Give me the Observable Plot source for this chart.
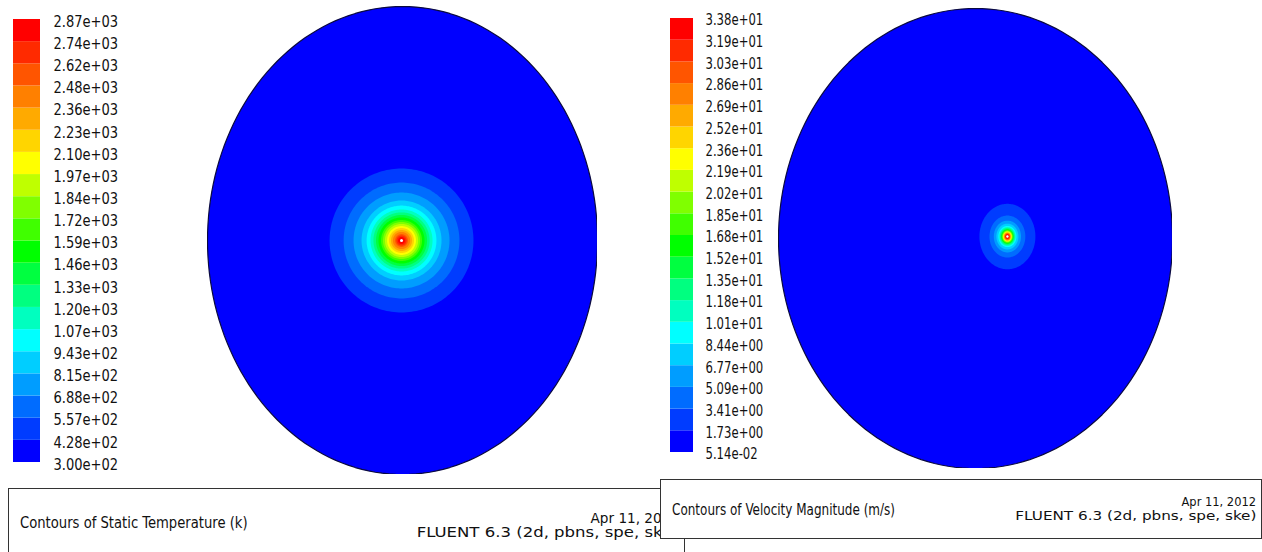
<!DOCTYPE html>
<html><head><meta charset="utf-8">
<script src="https://cdn.jsdelivr.net/npm/d3@7"></script>
<script src="https://cdn.jsdelivr.net/npm/@observablehq/plot@0.6"></script>
<style>
body{margin:0;background:#fff;}
#root{position:relative;width:1262px;height:552px;overflow:hidden;font-family:"DejaVu Sans Condensed","Liberation Sans Narrow","DejaVu Sans",sans-serif;color:#111;}
.box{position:absolute;background:#fff;border:1.5px solid #333;box-sizing:border-box;}
.t{position:absolute;white-space:nowrap;line-height:1;}
</style></head><body><div id="root"></div>
<script>
// ---------- data ----------
const tempLabels = ["2.87e+03","2.74e+03","2.62e+03","2.48e+03","2.36e+03","2.23e+03","2.10e+03","1.97e+03","1.84e+03","1.72e+03","1.59e+03","1.46e+03","1.33e+03","1.20e+03","1.07e+03","9.43e+02","8.15e+02","6.88e+02","5.57e+02","4.28e+02","3.00e+02"];
const velLabels = ["3.38e+01","3.19e+01","3.03e+01","2.86e+01","2.69e+01","2.52e+01","2.36e+01","2.19e+01","2.02e+01","1.85e+01","1.68e+01","1.52e+01","1.35e+01","1.18e+01","1.01e+01","8.44e+00","6.77e+00","5.09e+00","3.41e+00","1.73e+00","5.14e-02"];
const bands = d3.range(20); // colour band index, 0 = lowest
// contour band outer radius (bands 1..19), in units of the domain x-radius
const tempBandRadius = [0.369,0.297,0.246,0.205,0.179,0.159,0.144,0.131,0.118,0.105,0.095,0.085,0.074,0.064,0.054,0.044,0.033,0.026,0.018];
const velBandRadius  = [0.142,0.091,0.069,0.056,0.046,0.041,0.037,0.033,0.030,0.028,0.025,0.023,0.021,0.019,0.017,0.015,0.013,0.011,0.009];
const tempDomain = {ax: 1, ay: 1.2, hx: -0.005, hy: 0, ringAspect: 1.0};
const velDomain  = {ax: 1, ay: 1.168, hx: 0.162, hy: 0.01, ringAspect: 1.17};
const titles = {temp: "Contours of Static Temperature (k)", vel: "Contours of Velocity Magnitude (m/s)"};
const dateText = "Apr 11, 2012";
const solverText = "FLUENT 6.3 (2d, pbns, spe, ske)";

// ---------- colours (blue -> cyan -> green -> yellow -> red) ----------
const hue = d3.scaleLinear().domain([0,1,5,9,13,19]).range([240,226,180,120,60,0]);
const palette = bands.map(b => d3.hsl(hue(b), 1, 0.5).formatHex());
const colorScale = {type: "ordinal", domain: bands, range: palette};

const root = document.getElementById("root");
function place(el, left, top){ el.style.position="absolute"; el.style.left=left+"px"; el.style.top=top+"px"; root.appendChild(el); return el; }

function squeeze(svg, sx){
  svg.querySelectorAll("text").forEach(t => {
    const tr = t.getAttribute("transform");
    if (tr) t.setAttribute("transform", tr + ` scale(${sx},1)`);
    else {
      const x = +t.getAttribute("x") || 0, y = +t.getAttribute("y") || 0;
      t.removeAttribute("x"); t.removeAttribute("y");
      t.setAttribute("transform", `translate(${x},${y}) scale(${sx},1)`);
    }
  });
  return svg;
}

function legend(labels, opt){
  const rows = labels.map((t,i)=>({k: labels.length-1-i, t}));
  const svg = Plot.plot({
    width: opt.w, height: opt.h, margin: 0,
    x: {domain:[0,1], range: opt.xr, axis: null},
    y: {domain:[0,20], range: opt.yr, axis: null},
    color: colorScale,
    style: {fontFamily: "inherit", background: "transparent"},
    marks: [
      Plot.rect(bands, {x1: 0, x2: 1, y1: d=>d, y2: d=>d+1, fill: d=>d}),
      Plot.text(rows, {x: 1, y: "k", text: "t", textAnchor: "start", dx: opt.dx, dy: opt.dy, fontSize: opt.fs, fill: "#111"})
    ]
  });
  return squeeze(svg, opt.sx);
}

function field(radii, dom, opt){
  const N = 180;
  const ang = d3.range(N+1).map(i => 2*Math.PI*i/N);
  const pts = [];
  ang.forEach(a => pts.push({band: 0, x: dom.ax*Math.cos(a), y: dom.ay*Math.sin(a)}));
  radii.forEach((r, i) => ang.forEach(a => pts.push({band: i+1, x: dom.hx + r*Math.cos(a), y: dom.hy + r*dom.ringAspect*Math.sin(a)})));
  const outline = ang.map(a => ({x: dom.ax*Math.cos(a), y: dom.ay*Math.sin(a)}));
  return Plot.plot({
    width: opt.w, height: opt.h, margin: 0,
    x: {domain: [-dom.ax, dom.ax], axis: null},
    y: {domain: [-dom.ay, dom.ay], axis: null},
    color: colorScale,
    style: {background: "transparent"},
    marks: [
      Plot.line(pts, {x: "x", y: "y", z: "band", fill: "band", stroke: null, curve: "linear-closed"}),
      Plot.line(outline, {x: "x", y: "y", stroke: "#0a0a40", strokeWidth: 1.2, curve: "linear-closed"}),
      Plot.dot([{x: dom.hx, y: dom.hy}], {x: "x", y: "y", r: opt.dot, fill: "#fff"})
    ]
  });
}

// left panel
place(legend(tempLabels, {w: 160, h: 480, xr: [13,40], yr: [462,19], dx: 13, dy: 2, fs: 16.5, sx: 0.88}), 0, 0);
place(field(tempBandRadius, tempDomain, {w: 390, h: 468, dot: 1.5}), 207, 6);
// right panel
place(legend(velLabels, {w: 160, h: 480, xr: [10,33], yr: [452,18], dx: 12, dy: 2, fs: 15, sx: 0.865}), 660, 0);
place(field(velBandRadius, velDomain, {w: 394, h: 460, dot: 1.2}), 778, 8);

// caption boxes
function txt(parent, s, css, sx, origin){
  const t = document.createElement("div"); t.className = "t"; t.textContent = s;
  Object.assign(t.style, css, {transform: `scaleX(${sx})`, transformOrigin: origin});
  parent.appendChild(t);
}
function box(left, top, w, h, title, o){
  const b = document.createElement("div"); b.className = "box";
  Object.assign(b.style, {left: left+"px", top: top+"px", width: w+"px", height: h+"px"});
  txt(b, title, {left: "11px", top: o.titleTop+"px", fontSize: o.fsT+"px"}, o.sxT, "left center");
  txt(b, dateText, {right: "5px", top: o.dateTop+"px", fontSize: o.fsR+"px"}, o.sxD, "right center");
  txt(b, solverText, {right: "5px", top: o.solverTop+"px", fontSize: o.fsR+"px"}, o.sxS, "right center");
  root.appendChild(b);
}
box(8, 488, 677, 80, titles.temp, {fsT: 16, sxT: 0.915, fsR: 13.5, sxD: 1.12, sxS: 1.36, titleTop: 26, dateTop: 23, solverTop: 37});
box(660, 479, 602, 60, titles.vel, {fsT: 15, sxT: 0.89, fsR: 13, sxD: 0.98, sxS: 1.3, titleTop: 23, dateTop: 15, solverTop: 28.5});
</script></body></html>
